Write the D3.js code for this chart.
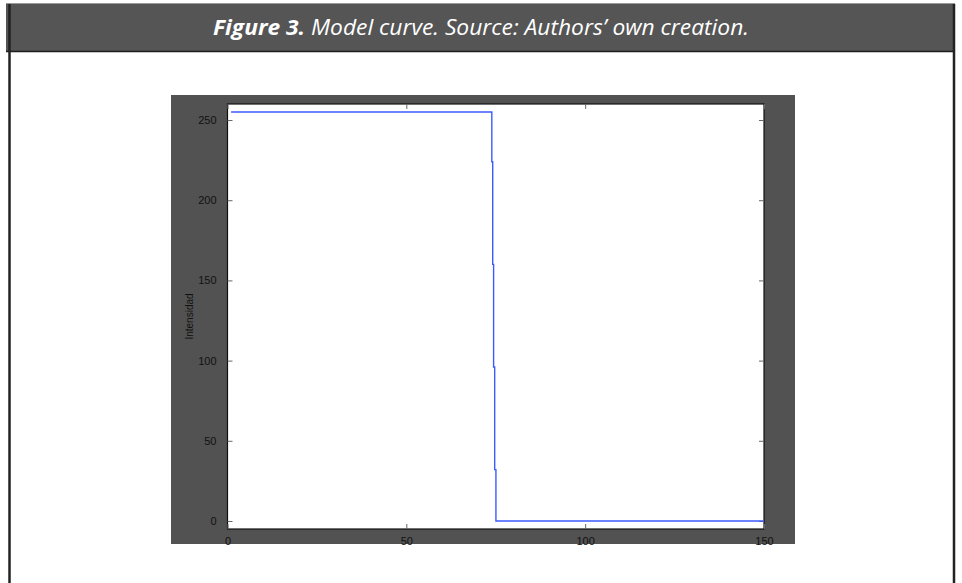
<!DOCTYPE html>
<html>
<head>
<meta charset="utf-8">
<script src="https://cdn.jsdelivr.net/npm/d3@7"></script>
<style>
  body { margin: 0; background: #fff; }
  svg { display: block; }
</style>
</head>
<body>
<svg width="962" height="583"></svg>
<script>
// data
const xValues = [1, 73.9, 73.9, 74.15, 74.15, 74.4, 74.4, 74.7, 74.7, 75.05, 75.05, 150];
const yValues = [255, 255, 224, 224, 160, 160, 96, 96, 32, 32, 0, 0];
const xTicks = [0, 50, 100, 150];
const yTicks = [0, 50, 100, 150, 200, 250];
const yLabel = "Intensidad";
const titleBold = "Figure 3.";
const titleRest = " Model curve. Source: Authors\u2019 own creation.";

const width = 962;
const height = 583;
const svg = d3.select("svg");

// outer frame
svg.append("rect")
  .attr("x", 6).attr("y", 4)
  .attr("width", 949).attr("height", 48)
  .attr("fill", "#555555");
svg.append("line")
  .attr("x1", 6).attr("x2", 955).attr("y1", 3.5).attr("y2", 3.5)
  .attr("stroke", "#999").attr("stroke-width", 1);
svg.append("line")
  .attr("x1", 6).attr("x2", 955).attr("y1", 51.5).attr("y2", 51.5)
  .attr("stroke", "#1e1e1e").attr("stroke-width", 1.5);
svg.append("line")
  .attr("x1", 9.5).attr("x2", 9.5).attr("y1", 4).attr("y2", height)
  .attr("stroke", "#222").attr("stroke-width", 2.5);
svg.append("line")
  .attr("x1", 954).attr("x2", 954).attr("y1", 4).attr("y2", height)
  .attr("stroke", "#222").attr("stroke-width", 2.5);

// title
const title = svg.append("text")
  .attr("x", 481).attr("y", 35)
  .attr("text-anchor", "middle")
  .attr("fill", "#fff")
  .style("font-family", "'Open Sans', sans-serif")
  .style("font-style", "italic")
  .style("font-size", "21px");
title.append("tspan").style("font-weight", "bold").text(titleBold);
title.append("tspan").text(titleRest);
const tw = title.node().getComputedTextLength();
title.attr("textLength", 536).attr("lengthAdjust", "spacingAndGlyphs");

// figure background
svg.append("rect")
  .attr("x", 171).attr("y", 95)
  .attr("width", 624).attr("height", 449)
  .attr("fill", "#525252");

const margin = { top: 104, bottom: 529, left: 227.5, right: 764 };

const xScale = d3.scaleLinear()
  .domain([0, 150])
  .range([margin.left, margin.right]);
const yScale = d3.scaleLinear()
  .domain([-5, 260])
  .range([margin.bottom, margin.top]);

// plot area
svg.append("rect")
  .attr("x", margin.left).attr("y", margin.top)
  .attr("width", margin.right - margin.left)
  .attr("height", margin.bottom - margin.top)
  .attr("fill", "#fff")
  .attr("stroke", "#111").attr("stroke-width", 1.2);

// axes, MATLAB style: ticks inside on all four sides
const tickStyle = g => {
  g.select(".domain").remove();
  g.selectAll(".tick line").attr("stroke", "#666");
  g.selectAll(".tick text")
    .attr("fill", "#111")
    .style("font-family", "'Liberation Sans', Arial, sans-serif")
    .style("font-size", "11px");
};

svg.append("g")
  .attr("transform", `translate(${margin.left},0)`)
  .call(d3.axisLeft(yScale).tickValues(yTicks).tickSizeInner(-5).tickPadding(11))
  .call(tickStyle);
svg.append("g")
  .attr("transform", `translate(${margin.right},0)`)
  .call(d3.axisRight(yScale).tickValues(yTicks).tickSizeInner(-5).tickFormat(""))
  .call(tickStyle);
svg.append("g")
  .attr("transform", `translate(0,${margin.bottom})`)
  .call(d3.axisBottom(xScale).tickValues(xTicks).tickSizeInner(-5).tickPadding(8))
  .call(tickStyle);
svg.append("g")
  .attr("transform", `translate(0,${margin.top})`)
  .call(d3.axisTop(xScale).tickValues(xTicks).tickSizeInner(-5).tickFormat(""))
  .call(tickStyle);

// y label
svg.append("text")
  .attr("transform", `translate(193,${(margin.top + margin.bottom) / 2}) rotate(-90)`)
  .attr("text-anchor", "middle")
  .attr("fill", "#111")
  .style("font-family", "'Liberation Sans', Arial, sans-serif")
  .style("font-size", "10px")
  .text(yLabel);

// curve
const points = xValues.map((x, i) => [x, yValues[i]]);
const line = d3.line()
  .x(d => xScale(d[0]))
  .y(d => yScale(d[1]));
svg.append("path")
  .datum(points)
  .attr("d", line)
  .attr("fill", "none")
  .attr("stroke", "#3b5bff")
  .attr("stroke-width", 1.4);
</script>
</body>
</html>
